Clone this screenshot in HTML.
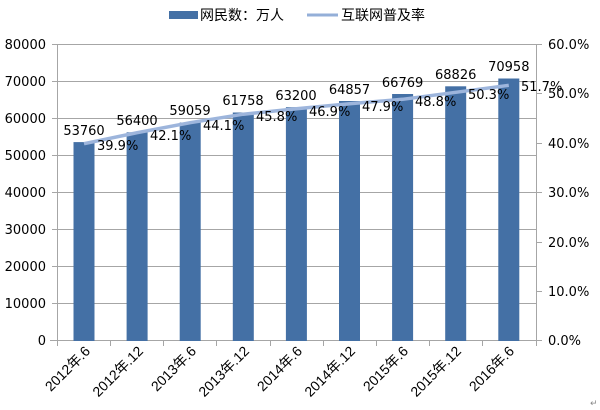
<!DOCTYPE html>
<html><head><meta charset="utf-8"><style>
html,body{margin:0;padding:0;background:#fff;}
svg{display:block;font-family:"DejaVu Sans","Liberation Sans","Noto Sans CJK SC",sans-serif;}
</style></head><body>
<svg width="600" height="410" xmlns="http://www.w3.org/2000/svg">
<rect width="600" height="410" fill="#fff"/>
<rect x="169" y="11" width="29" height="8" fill="#4470A5"/>
<text x="200" y="20" font-size="14" font-family="'Noto Sans CJK SC',sans-serif" fill="#000">网民数：万人</text>
<line x1="307" y1="15" x2="338" y2="15" stroke="#94AFD8" stroke-width="3"/>
<text x="341" y="20" font-size="14" font-family="'Noto Sans CJK SC',sans-serif" fill="#000">互联网普及率</text>
<g stroke="#A6A6A6" stroke-width="1">
<line x1="57" y1="44.5" x2="536" y2="44.5"/>
<line x1="57" y1="81.5" x2="536" y2="81.5"/>
<line x1="57" y1="118.5" x2="536" y2="118.5"/>
<line x1="57" y1="155.5" x2="536" y2="155.5"/>
<line x1="57" y1="192.5" x2="536" y2="192.5"/>
<line x1="57" y1="229.5" x2="536" y2="229.5"/>
<line x1="57" y1="266.5" x2="536" y2="266.5"/>
<line x1="57" y1="303.5" x2="536" y2="303.5"/>
<line x1="50" y1="340.5" x2="536" y2="340.5"/>
<line x1="57.5" y1="44" x2="57.5" y2="341"/>
<line x1="536.5" y1="44" x2="536.5" y2="341"/>
<line x1="52" y1="44.5" x2="57" y2="44.5"/><line x1="52" y1="81.5" x2="57" y2="81.5"/><line x1="52" y1="118.5" x2="57" y2="118.5"/><line x1="52" y1="155.5" x2="57" y2="155.5"/><line x1="52" y1="192.5" x2="57" y2="192.5"/><line x1="52" y1="229.5" x2="57" y2="229.5"/><line x1="52" y1="266.5" x2="57" y2="266.5"/><line x1="52" y1="303.5" x2="57" y2="303.5"/>
<line x1="536" y1="44.5" x2="542" y2="44.5"/><line x1="536" y1="93.5" x2="542" y2="93.5"/><line x1="536" y1="143.5" x2="542" y2="143.5"/><line x1="536" y1="192.5" x2="542" y2="192.5"/><line x1="536" y1="242.5" x2="542" y2="242.5"/><line x1="536" y1="291.5" x2="542" y2="291.5"/><line x1="536" y1="340.5" x2="542" y2="340.5"/>
<line x1="57.5" y1="341" x2="57.5" y2="346"/><line x1="110.5" y1="341" x2="110.5" y2="346"/><line x1="163.5" y1="341" x2="163.5" y2="346"/><line x1="216.5" y1="341" x2="216.5" y2="346"/><line x1="270.5" y1="341" x2="270.5" y2="346"/><line x1="323.5" y1="341" x2="323.5" y2="346"/><line x1="376.5" y1="341" x2="376.5" y2="346"/><line x1="429.5" y1="341" x2="429.5" y2="346"/><line x1="482.5" y1="341" x2="482.5" y2="346"/><line x1="536.5" y1="341" x2="536.5" y2="346"/>
</g>
<g font-size="13" fill="#000" text-anchor="end">
<text x="46" y="49">80000</text><text x="46" y="86">70000</text><text x="46" y="123">60000</text><text x="46" y="160">50000</text><text x="46" y="197">40000</text><text x="46" y="234">30000</text><text x="46" y="271">20000</text><text x="46" y="308">10000</text><text x="46" y="345">0</text>
</g>
<g font-size="13" fill="#000">
<text x="548" y="49">60.0%</text><text x="548" y="98">50.0%</text><text x="548" y="148">40.0%</text><text x="548" y="197">30.0%</text><text x="548" y="247">20.0%</text><text x="548" y="296">10.0%</text><text x="548" y="345">0.0%</text>
</g>
<g fill="#4470A5">
<rect x="73.5" y="142.1" width="21" height="198.9"/>
<rect x="126.6" y="132.3" width="21" height="208.7"/>
<rect x="179.7" y="122.5" width="21" height="218.5"/>
<rect x="232.8" y="112.5" width="21" height="228.5"/>
<rect x="285.9" y="107.2" width="21" height="233.8"/>
<rect x="339" y="101" width="21" height="240"/>
<rect x="392.1" y="94" width="21" height="247"/>
<rect x="445.2" y="86.3" width="21" height="254.7"/>
<rect x="498.3" y="78.5" width="21" height="262.5"/>
</g>
<polyline points="84,143.7 137.1,132.7 190.2,122.7 243.3,114.2 296.4,108.7 349.5,103.8 402.6,99.3 455.7,92.3 508.8,85.3" fill="none" stroke="#9DB5DC" stroke-width="3.5" stroke-linejoin="round"/>
<g font-size="13" fill="#000" text-anchor="middle">
<text x="84" y="135">53760</text><text x="137" y="125">56400</text><text x="190" y="115">59059</text><text x="243" y="105">61758</text><text x="296" y="100">63200</text><text x="349.5" y="94">64857</text><text x="402.6" y="87">66769</text><text x="455.7" y="79">68826</text><text x="508.8" y="71">70958</text>
</g>
<g font-size="13" fill="#000">
<text x="97" y="150">39.9%</text><text x="150" y="140">42.1%</text><text x="203" y="130">44.1%</text><text x="256" y="121">45.8%</text><text x="309" y="116">46.9%</text><text x="362" y="111">47.9%</text><text x="415" y="106">48.8%</text><text x="468" y="99">50.3%</text><text x="521" y="91">51.7%</text>
</g>
<g font-size="14" fill="#000" text-anchor="end" font-family="'Liberation Sans','Noto Sans CJK SC',sans-serif">
<text transform="translate(91,352) rotate(-45)">2012年.6</text>
<text transform="translate(144,352) rotate(-45)">2012年.12</text>
<text transform="translate(197,352) rotate(-45)">2013年.6</text>
<text transform="translate(250,352) rotate(-45)">2013年.12</text>
<text transform="translate(303,352) rotate(-45)">2014年.6</text>
<text transform="translate(356,352) rotate(-45)">2014年.12</text>
<text transform="translate(409,352) rotate(-45)">2015年.6</text>
<text transform="translate(462,352) rotate(-45)">2015年.12</text>
<text transform="translate(515,352) rotate(-45)">2016年.6</text>
</g>
<text x="590" y="406" font-size="9" fill="#888">↵</text>
</svg>
</body></html>
